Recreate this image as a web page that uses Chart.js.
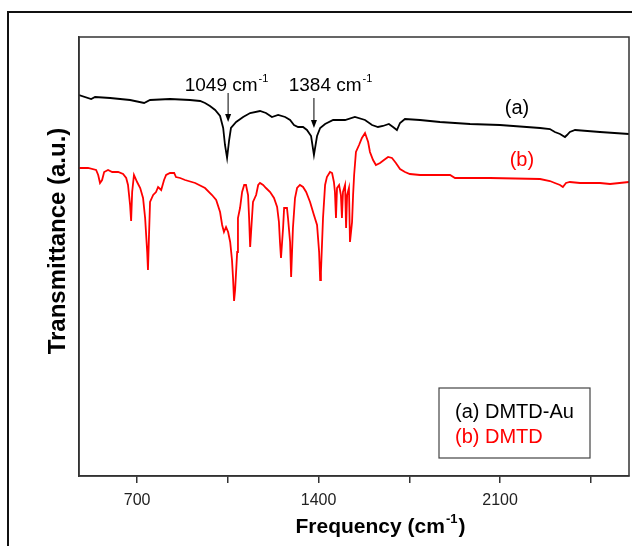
<!DOCTYPE html>
<html lang="en">
  <head>
    <meta charset="UTF-8" />
    <title>FTIR spectra</title>
    <script src="https://cdn.jsdelivr.net/npm/chart.js@4.4.0/dist/chart.umd.min.js"></script>
    <style>
      body { margin: 0; background: #fff; }
      canvas { display: block; }
    </style>
  </head>
  <body>
    <canvas id="irChart" width="632" height="546"></canvas>

    <script>
      // (a) DMTD-Au
      const freqA = [476, 523, 538, 596, 673, 727, 750, 827, 904, 943, 962, 981, 1001, 1020, 1032, 1039, 1047, 1055, 1062, 1082,
        1109, 1136, 1174, 1197, 1220, 1244, 1271, 1290, 1305, 1321, 1340, 1355, 1371, 1382, 1394, 1406, 1425, 1456, 1502, 1540,
        1579, 1606, 1629, 1648, 1671, 1687, 1702, 1714, 1733, 1791, 1868, 1984, 2099, 2254, 2292, 2311, 2331, 2350, 2358, 2369,
        2389, 2485, 2597];
      const transA = [381, 377, 379, 378, 376, 373, 376, 377, 376, 375, 373, 370, 366, 360, 348, 331, 318, 336, 348, 354,
        359, 363, 365, 363, 359, 361, 359, 356, 351, 349, 349, 346, 340, 321, 340, 348, 352, 356, 356, 359,
        356, 351, 349, 350, 352, 349, 346, 353, 357, 356, 354, 352, 351, 348, 347, 344, 342, 339, 341, 344,
        346, 344, 342];

      // (b) DMTD
      const freqB = [476, 511, 542, 550, 557, 565, 573, 588, 604, 627, 646, 658, 665, 673, 677, 681, 688, 700, 712, 723,
        731, 739, 742, 746, 750, 762, 773, 781, 793, 804, 812, 827, 843, 850, 866, 885, 924, 962, 989, 1005,
        1020, 1028, 1035, 1043, 1051, 1059, 1066, 1070, 1074, 1078, 1086, 1089, 1097, 1105, 1113, 1120, 1128, 1132, 1136, 1143,
        1147, 1159, 1167, 1174, 1186, 1197, 1213, 1228, 1240, 1247, 1251, 1255, 1263, 1267, 1278, 1282, 1290, 1294, 1301, 1309,
        1317, 1328, 1340, 1352, 1367, 1382, 1394, 1402, 1406, 1409, 1417, 1425, 1432, 1444, 1452, 1459, 1463, 1467, 1471, 1479,
        1486, 1490, 1494, 1502, 1506, 1510, 1517, 1521, 1529, 1533, 1537, 1544, 1556, 1567, 1579, 1591, 1598, 1610, 1621, 1637,
        1652, 1668, 1683, 1698, 1714, 1733, 1752, 1791, 1907, 1926, 2061, 2254, 2292, 2311, 2331, 2342, 2354, 2369, 2408, 2485,
        2524, 2597];
      const transB = [308, 308, 306, 301, 293, 296, 304, 306, 304, 304, 302, 298, 291, 271, 255, 284, 301, 294, 288, 278,
        258, 224, 206, 241, 274, 281, 284, 289, 286, 296, 301, 303, 303, 299, 298, 296, 293, 288, 281, 276,
        264, 251, 244, 249, 244, 234, 216, 198, 175, 186, 224, 258, 268, 284, 291, 291, 281, 258, 229, 258,
        274, 281, 291, 293, 291, 288, 284, 278, 269, 254, 234, 218, 248, 268, 268, 258, 234, 199, 248, 278,
        288, 291, 289, 284, 274, 261, 251, 224, 196, 204, 258, 291, 299, 304, 303, 294, 284, 258, 288, 291,
        281, 258, 284, 291, 248, 281, 288, 234, 254, 281, 301, 324, 331, 338, 343, 334, 324, 316, 311, 313,
        316, 319, 318, 313, 307, 304, 302, 301, 301, 298, 298, 297, 295, 293, 291, 289, 293, 294, 293, 293,
        292, 294];

      const tickValues = [700, 1050, 1400, 1750, 2100, 2450];
      const labelledTicks = [700, 1400, 2100];

      // peak annotations: arrow x, arrow top / tip, where the text sits
      const peakMarks = [
        { label: "1049 cm", freq: 1051, top: 383, tip: 354, textFreq: 1043, textY: 385 },
        { label: "1384 cm", freq: 1382, top: 378, tip: 348, textFreq: 1444, textY: 385 },
      ];

      const FONT = "'Liberation Sans', Arial, sans-serif";

      function supText(ctx, main, sup, cx, baseY, size, weight) {
        const w = weight ? weight + " " : "";
        const big = w + size + "px " + FONT;
        const small = w + Math.round(size * 0.6) + "px " + FONT;
        ctx.font = big;
        const w1 = ctx.measureText(main).width;
        ctx.font = small;
        const w2 = ctx.measureText(sup).width;
        const x0 = cx - (w1 + w2) / 2;
        ctx.textAlign = "left";
        ctx.textBaseline = "alphabetic";
        ctx.font = big;
        ctx.fillText(main, x0, baseY);
        ctx.font = small;
        ctx.fillText(sup, x0 + w1 + 1, baseY - size * 0.5);
        return x0 + w1 + w2 + 2;
      }

      const decor = {
        id: "decor",
        afterDraw(chart) {
          const { ctx, chartArea: a, scales } = chart;
          const x = scales.x, y = scales.y;
          ctx.save();

          // plot frame + outer figure frame
          ctx.strokeStyle = "#333";
          ctx.lineWidth = 1.5;
          ctx.strokeRect(a.left, a.top, a.right - a.left, a.bottom - a.top);
          ctx.strokeStyle = "#111";
          ctx.lineWidth = 2;
          ctx.strokeRect(8, 12, 700, 600);

          // arrows with labels
          ctx.fillStyle = "#000";
          ctx.strokeStyle = "#000";
          peakMarks.forEach((p) => {
            const px = x.getPixelForValue(p.freq);
            const y0 = y.getPixelForValue(p.top);
            const y1 = y.getPixelForValue(p.tip);
            ctx.lineWidth = 1;
            ctx.beginPath();
            ctx.moveTo(px, y0);
            ctx.lineTo(px, y1 - 6);
            ctx.stroke();
            ctx.beginPath();
            ctx.moveTo(px, y1);
            ctx.lineTo(px - 3, y1 - 8);
            ctx.lineTo(px + 3, y1 - 8);
            ctx.closePath();
            ctx.fill();
            supText(ctx, p.label, "-1", x.getPixelForValue(p.textFreq), y.getPixelForValue(p.textY), 19);
          });

          // series labels
          ctx.textAlign = "center";
          ctx.textBaseline = "middle";
          ctx.font = "20px " + FONT;
          ctx.fillStyle = "#000";
          ctx.fillText("(a)", x.getPixelForValue(2165), y.getPixelForValue(368));
          ctx.fillStyle = "#ff0000";
          ctx.fillText("(b)", x.getPixelForValue(2184), y.getPixelForValue(316));

          // legend box
          const lx = a.right - 190, ly = a.top + 351;
          ctx.strokeStyle = "#444";
          ctx.lineWidth = 1.2;
          ctx.strokeRect(lx, ly, 151, 70);
          ctx.textAlign = "left";
          ctx.font = "20px " + FONT;
          ctx.fillStyle = "#000";
          ctx.fillText("(a) DMTD-Au", lx + 16, ly + 24);
          ctx.fillStyle = "#ff0000";
          ctx.fillText("(b) DMTD", lx + 16, ly + 49);

          // axis titles
          ctx.fillStyle = "#000";
          const tx = supText(ctx, "Frequency (cm", "-1", 376, 533, 21, "bold");
          ctx.font = "bold 21px " + FONT;
          ctx.fillText(")", tx, 533);
          ctx.translate(58, 241);
          ctx.rotate(-Math.PI / 2);
          ctx.textAlign = "center";
          ctx.textBaseline = "middle";
          ctx.font = "bold 24px " + FONT;
          ctx.fillText("Transmittance (a.u.)", 0, 0);
          ctx.restore();
        },
      };

      const ctx = document.getElementById("irChart").getContext("2d");
      new Chart(ctx, {
        type: "line",
        data: {
          datasets: [
            {
              label: "(a) DMTD-Au",
              data: freqA.map((f, i) => ({ x: f, y: transA[i] })),
              borderColor: "#000",
              borderWidth: 1.8,
              pointRadius: 0,
              tension: 0,
            },
            {
              label: "(b) DMTD",
              data: freqB.map((f, i) => ({ x: f, y: transB[i] })),
              borderColor: "#ff0000",
              borderWidth: 1.8,
              pointRadius: 0,
              tension: 0,
            },
          ],
        },
        options: {
          responsive: false,
          animation: false,
          layout: { padding: { top: 37, right: 3, left: 0, bottom: 0 } },
          plugins: { legend: { display: false }, tooltip: { enabled: false } },
          scales: {
            x: {
              type: "linear",
              min: 476,
              max: 2597,
              afterBuildTicks: (scale) => {
                scale.ticks = tickValues.map((v) => ({ value: v }));
              },
              afterFit: (scale) => {
                scale.height = 70;
              },
              ticks: {
                autoSkip: false,
                maxRotation: 0,
                padding: 8,
                color: "#222",
                font: { family: FONT, size: 16 },
                callback: (v) => (labelledTicks.includes(v) ? String(v) : ""),
              },
              grid: {
                drawOnChartArea: false,
                drawTicks: true,
                tickLength: 7,
                color: "#333",
                lineWidth: 1.5,
              },
              border: { display: true, color: "#333", width: 1.5 },
            },
            y: {
              min: 0,
              max: 439,
              afterFit: (scale) => {
                scale.width = 79;
              },
              ticks: { display: false },
              grid: { display: false },
              border: { display: true, color: "#333", width: 1.5 },
            },
          },
        },
        plugins: [decor],
      });
    </script>
  </body>
</html>
